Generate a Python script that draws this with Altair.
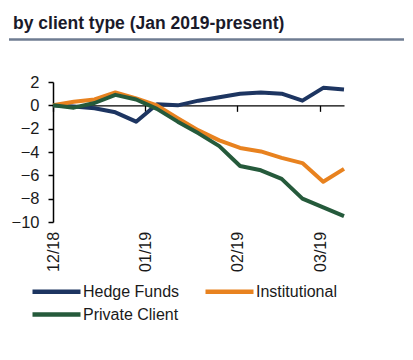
import altair as alt
import pandas as pd

dates = ["2018-12-01", "2018-12-08", "2018-12-15", "2018-12-22", "2018-12-29",
         "2019-01-05", "2019-01-12", "2019-01-19", "2019-01-26", "2019-02-02",
         "2019-02-09", "2019-02-16", "2019-02-23", "2019-03-02", "2019-03-09"]
hedge_funds = [0, -0.1, -0.25, -0.6, -1.4, 0.1, 0.0, 0.4, 0.7, 1.0, 1.1, 1.0, 0.4, 1.5, 1.35]
institutional = [0, 0.3, 0.5, 1.1, 0.6, 0.0, -1.1, -2.15, -3.0, -3.65, -3.95, -4.5, -4.95, -6.55, -5.45]
private_client = [0, -0.2, 0.2, 0.9, 0.5, -0.3, -1.4, -2.4, -3.5, -5.2, -5.57, -6.3, -8.0, -8.75, -9.5]
series = ["Hedge Funds", "Institutional", "Private Client"]
legend_order = ["Hedge Funds", "Private Client", "Institutional"]
colors = ["#1d3561", "#e8821f", "#255a3b"]
y_ticks = [-10, -8, -6, -4, -2, 0, 2]
title_text = "by client type (Jan 2019-present)"

rows = []
for name, vals in zip(series, [hedge_funds, institutional, private_client]):
    for d, v in zip(dates, vals):
        rows.append({"date": d + "T00:00:00", "value": v, "series": name})
df = pd.DataFrame(rows)

FONT = "Liberation Sans, Arial, sans-serif"
W, H = 291, 140
zero_offset = -H * 10 / 12

x_ticks = [alt.DateTime(year=2018, month=12, date=1),
           alt.DateTime(year=2019, month=1, date=1),
           alt.DateTime(year=2019, month=2, date=1),
           alt.DateTime(year=2019, month=3, date=1)]

lines = alt.Chart(df).mark_line(strokeWidth=4, strokeJoin="round").encode(
    x=alt.X("date:T",
            scale=alt.Scale(domain=[alt.DateTime(year=2018, month=12, date=1),
                                    alt.DateTime(year=2019, month=3, date=9)], nice=False),
            axis=alt.Axis(title=None, values=x_ticks, format="%m/%y", labelAngle=270,
                          offset=zero_offset, tickSize=6, labelPadding=120,
                          domainColor="#000", tickColor="#000", domainWidth=1.3, tickWidth=1.3,
                          labelFontSize=16, labelFont=FONT, labelColor="#1a1a1a", grid=False)),
    y=alt.Y("value:Q",
            scale=alt.Scale(domain=[-10, 2], nice=False),
            axis=alt.Axis(title=None, values=y_ticks, tickSize=5, labelPadding=9,
                          domainColor="#000", tickColor="#000", domainWidth=1.5, tickWidth=1.5,
                          labelFontSize=16.5, labelFont=FONT, labelColor="#1a1a1a", grid=False)),
    color=alt.Color("series:N",
                    scale=alt.Scale(domain=series, range=colors),
                    legend=alt.Legend(title=None, orient="none", legendX=-23, legendY=201,
                                      values=legend_order,
                                      columns=2, symbolType="M-1,0H7", symbolSize=144,
                                      symbolStrokeWidth=4.5, labelOffset=36,
                                      labelFontSize=16, labelFont=FONT, labelColor="#1a1a1a",
                                      columnPadding=16, rowPadding=4)),
)

title = alt.Chart(pd.DataFrame({"t": [title_text]})).mark_text(
    align="left", baseline="alphabetic", fontSize=17.5, fontWeight="bold",
    font=FONT, color="#1a1a2a"
).encode(x=alt.value(-40), y=alt.value(-53), text="t:N")

rule = alt.Chart(pd.DataFrame({"a": [0]})).mark_rule(color="#6f7c92", strokeWidth=2.5).encode(
    x=alt.value(-44), x2=alt.value(352), y=alt.value(-42.5))

chart = alt.layer(lines, title, rule).properties(
    width=W, height=H,
    padding={"left": 45, "top": 74, "right": 60, "bottom": 130},
    autosize=alt.AutoSizeParams(type="none"),
).configure_view(stroke=None)

chart.save("out.html", embed_options={"renderer": "svg", "actions": False})
